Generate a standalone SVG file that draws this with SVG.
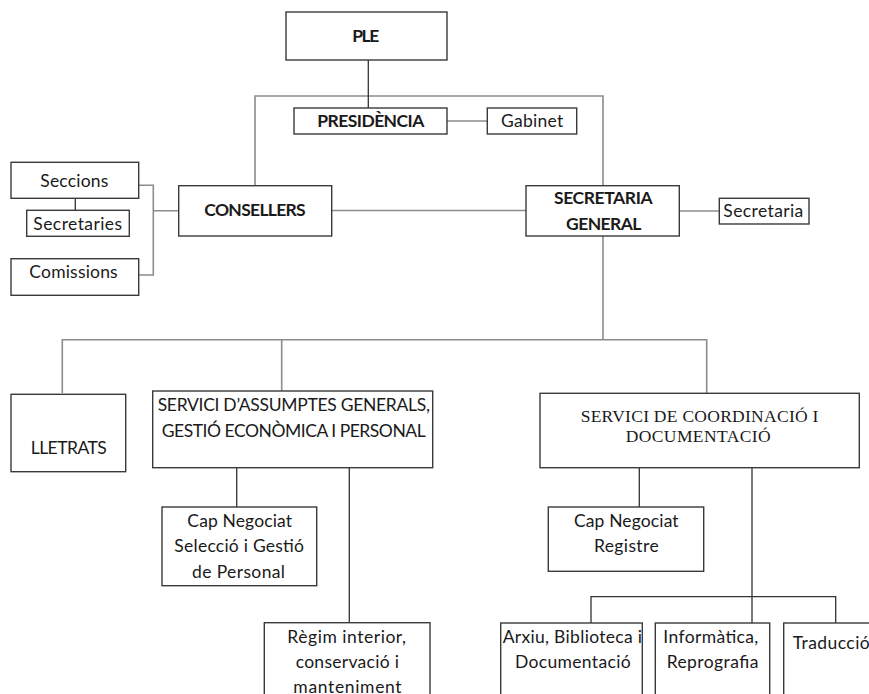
<svg xmlns="http://www.w3.org/2000/svg" width="869" height="694" viewBox="0 0 869 694">
<style>
.box{fill:#fff;stroke:#3a3a3a;stroke-width:1.4}
.t{font-family:Lato,"Open Sans","Liberation Sans",sans-serif;font-size:17.5px;fill:#1a1a1a;text-anchor:middle}
.b{font-weight:bold}
.s{font-family:"Liberation Serif","DejaVu Serif",serif;font-size:17.5px;fill:#1a1a1a;text-anchor:middle}
.g{fill:none;stroke:#8c8c8c;stroke-width:1.6}
.d{fill:none;stroke:#333;stroke-width:1.3}
</style>
<rect width="869" height="694" fill="#fff"/>
<g id="connectors">
<path class="g" d="M255,186 V96 H603 V186"/>
<path class="g" d="M332,210.5 H526"/>
<path class="g" d="M679,211 H719"/>
<path class="g" d="M447,121 H487"/>
<path class="g" d="M139,185.3 H153.3 V275 H139 M153.3,210.7 H179"/>
<path class="d" d="M75.3,198.3 V210.3"/>
<path class="g" d="M603,236 V339.7 M62.3,393 V339.7 H706.7 V393.3 M281.7,339.7 V391"/>
<path class="d" d="M368.3,60 V108"/>
<path class="d" d="M236.7,467.7 V507 M349.3,467.7 V622.7"/>
<path class="d" d="M639.3,467.7 V507 M752,467.7 V623 M591,623 V596.7 H835.7 V623"/>
</g>
<g id="ple"><rect class="box" x="286" y="12" width="161" height="48"/><text class="t b" x="365.7" y="42" textLength="27">PLE</text></g>
<g id="presidencia"><rect class="box" x="294" y="108" width="153" height="26"/><text class="t b" x="370.8" y="127.3" textLength="107">PRESIDÈNCIA</text></g>
<g id="gabinet"><rect class="box" x="487.3" y="108" width="89.4" height="26"/><text class="t" x="532.2" y="127.3" textLength="62.3">Gabinet</text></g>
<g id="consellers"><rect class="box" x="178.7" y="185.7" width="153" height="50.3"/><text class="t b" x="255" y="216" textLength="101.4">CONSELLERS</text></g>
<g id="secretaria-general"><rect class="box" x="526" y="185.7" width="153.3" height="50.3"/><text class="t b" x="603.3" y="204.3" textLength="98.7">SECRETARIA</text><text class="t b" x="603.7" y="230" textLength="75.3">GENERAL</text></g>
<g id="secretaria"><rect class="box" x="719.3" y="198.3" width="89.7" height="25.7"/><text class="t" x="763.3" y="217.3" textLength="80">Secretaria</text></g>
<g id="seccions"><rect class="box" x="11" y="162.3" width="127.7" height="36"/><text class="t" x="74.3" y="187.3" textLength="68">Seccions</text></g>
<g id="secretaries"><rect class="box" x="26.7" y="210.3" width="102.6" height="26"/><text class="t" x="77.7" y="230" textLength="88.7">Secretaries</text></g>
<g id="comissions"><rect class="box" x="11" y="258.7" width="127.7" height="36.6"/><text class="t" x="73.5" y="278.3" textLength="88.3">Comissions</text></g>
<g id="lletrats"><rect class="box" x="11" y="394.3" width="114.7" height="77.4"/><text class="t" x="68.7" y="454" textLength="76">LLETRATS</text></g>
<g id="servici-assumptes"><rect class="box" x="152.7" y="391" width="280" height="76.7"/><text class="t" x="293.8" y="410.7" textLength="272.3">SERVICI D’ASSUMPTES GENERALS,</text><text class="t" x="293.7" y="436.7" textLength="264">GESTIÓ ECONÒMICA I PERSONAL</text></g>
<g id="cap-seleccio"><rect class="box" x="162" y="507" width="154.7" height="78.7"/><text class="t" x="239.7" y="526.7" textLength="104.7">Cap Negociat</text><text class="t" x="239.2" y="552.3" textLength="129.7">Selecció i Gestió</text><text class="t" x="238.5" y="578.3" textLength="93">de Personal</text></g>
<g id="regim"><rect class="box" x="264.3" y="622.7" width="165.7" height="80"/><text class="t" x="346.7" y="642.7" textLength="118.7">Règim interior,</text><text class="t" x="347.3" y="668.3" textLength="103.3">conservació i</text><text class="t" x="347.5" y="693.3" textLength="108.3">manteniment</text></g>
<g id="servici-coordinacio"><rect class="box" x="540" y="393.3" width="319.3" height="74.4"/><text class="s" x="699.5" y="421.7" textLength="237.7">SERVICI DE COORDINACIÓ I</text><text class="s" x="698.2" y="442.3" textLength="145">DOCUMENTACIÓ</text></g>
<g id="cap-registre"><rect class="box" x="548.3" y="507" width="155.4" height="64.3"/><text class="t" x="626.3" y="526.7" textLength="104.7">Cap Negociat</text><text class="t" x="626.3" y="552.3" textLength="64.7">Registre</text></g>
<g id="arxiu"><rect class="box" x="500.7" y="623" width="141.6" height="80"/><text class="t" x="572.3" y="642.7" textLength="139.3">Arxiu, Biblioteca i</text><text class="t" x="572.8" y="668.3" textLength="115.7">Documentació</text></g>
<g id="informatica"><rect class="box" x="655.3" y="623" width="114.4" height="80"/><text class="t" x="710.8" y="642.7" textLength="95">Informàtica,</text><text class="t" x="712.5" y="668.3" textLength="91.7">Reprografia</text></g>
<g id="traduccio"><rect class="box" x="783.7" y="623" width="100" height="80"/><text class="t" x="792.7" y="649.3" style="text-anchor:start" textLength="77">Traducció</text></g>
</svg>
